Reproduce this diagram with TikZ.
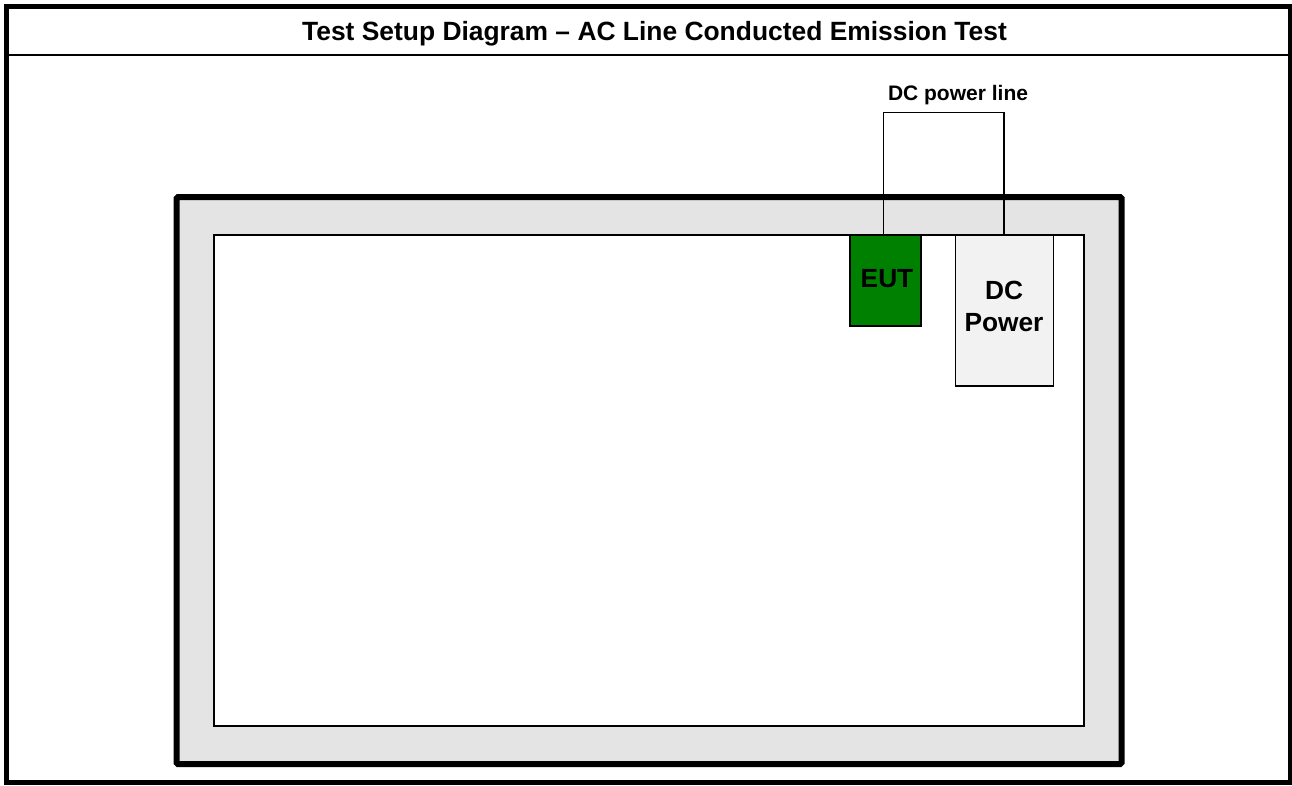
\documentclass[tikz,border=0pt]{standalone}
\usepackage{fontspec}
\setmainfont{Liberation Sans}
\definecolor{plategray}{RGB}{228,228,228}
\definecolor{eutgreen}{RGB}{0,128,0}
\definecolor{dcgray}{RGB}{242,242,242}
\tikzset{
  x=1pt,y=-1pt,
  frameline/.style={draw=black,line width=4.7pt},
  plate/.style={draw=black,line width=6pt,fill=plategray,rounded corners=1.5pt},
  innerbox/.style={draw=black,line width=1.5pt,fill=white},
  unitbox/.style={draw=black,line width=1.5pt,inner sep=0pt,outer sep=0pt,anchor=north west},
  wire/.style={draw=black,line width=1.6pt},
  unitlabel/.style={font=\bfseries\fontsize{26.3}{32.5}\selectfont,align=center,anchor=base}
}
\begin{document}
\begin{tikzpicture}
\useasboundingbox (0,0) rectangle (1292,785);
\fill[white] (0,0) rectangle (1292,785);
\draw[frameline] (6.3,6.3) rectangle (1290,782.2);
\draw[black,line width=2pt] (6,55) -- (1290,55);
\node[font=\bfseries\fontsize{26.4}{32}\selectfont,anchor=base] (title) at (654.5,40.7) {Test Setup Diagram – AC Line Conducted Emission Test};
\draw[plate] (176.5,197) rectangle (1121.7,764);
\draw[innerbox] (214.2,235.2) rectangle (1084,726);
\node[unitbox,fill=eutgreen,minimum width=71pt,minimum height=91pt] (eut) at (850,235.2) {};
\node[unitlabel] (eutlabel) at (887,287) {EUT};
\node[unitbox,fill=dcgray,minimum width=98.4pt,minimum height=150.8pt] (dc) at (955.3,235.2) {};
\node[unitlabel] (dclabel) at (1004,299) {DC};
\node[unitlabel] (powerlabel) at (1004,331.5) {Power};
\coordinate (topl) at (883.4,112.4);
\coordinate (topr) at (1004.2,112.4);
\coordinate (eutin) at (883.4,235.2);
\coordinate (dcin) at (1004.2,235.2);
\draw[wire] (eutin) -- (topl) -- (topr) -- (dcin);
\node[font=\bfseries\fontsize{21}{25}\selectfont,anchor=base] (lbl) at (958,100.7) {DC power line};
\end{tikzpicture}
\end{document}
